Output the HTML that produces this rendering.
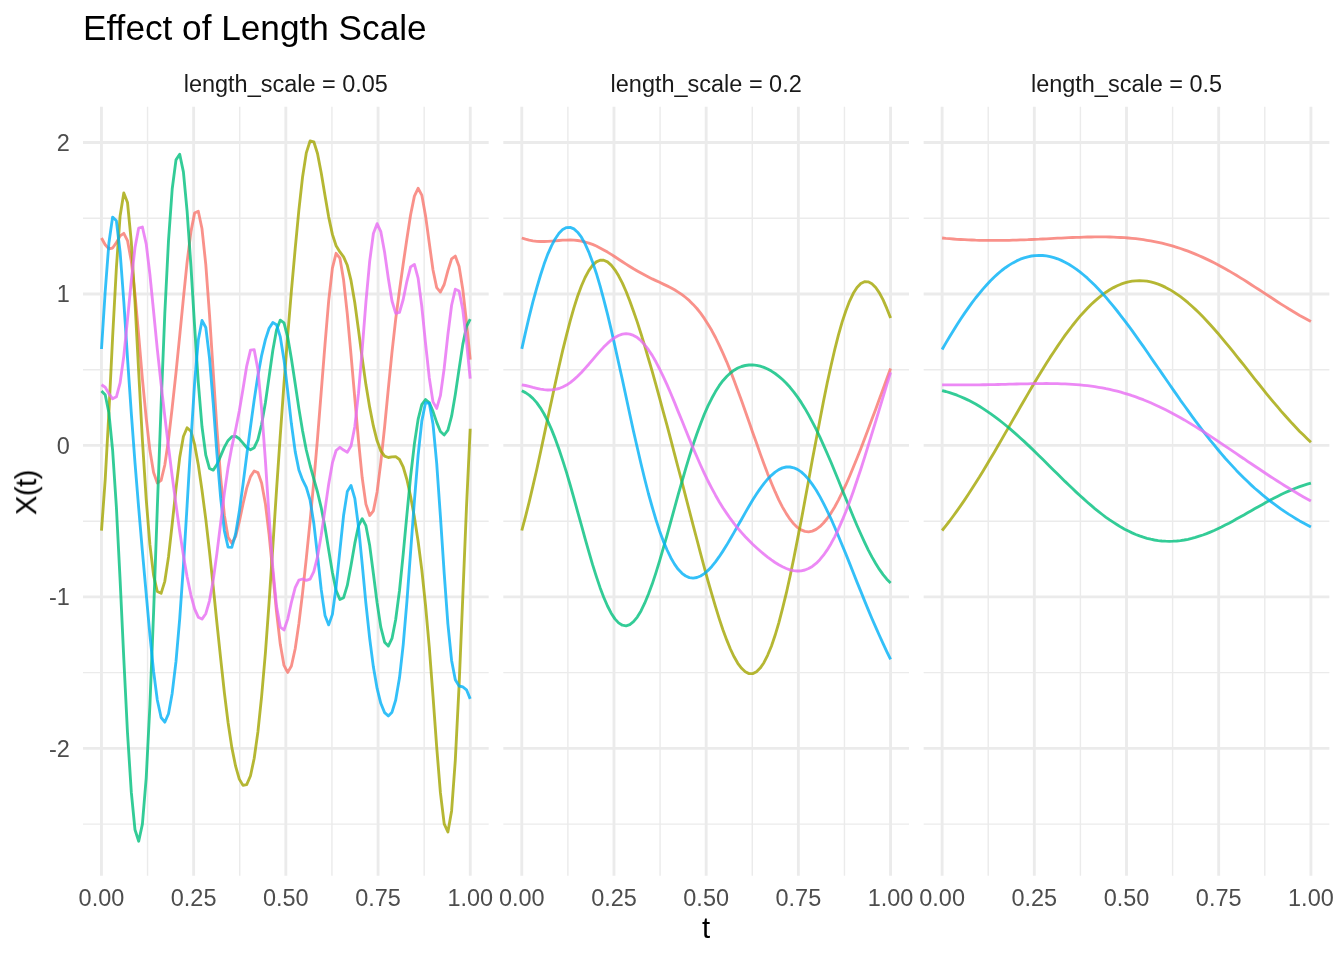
<!DOCTYPE html>
<html lang="en"><head><meta charset="utf-8"><title>Effect of Length Scale</title>
<style>html,body{margin:0;padding:0;background:#fff}body{width:1344px;height:960px;overflow:hidden}svg text{will-change:opacity}svg{will-change:transform}</style>
</head><body>
<svg width="1344" height="960" viewBox="0 0 1344 960" style="display:block;font-family:'Liberation Sans',Arial,Helvetica,sans-serif">
<rect width="1344" height="960" fill="#FFFFFF"/>
<g id="panel1">
<path d="M83.00 218.24H488.67M83.00 369.70H488.67M83.00 521.17H488.67M83.00 672.64H488.67M83.00 824.12H488.67M147.55 106.80V875.70M239.75 106.80V875.70M331.95 106.80V875.70M424.15 106.80V875.70" stroke="#EBEBEB" stroke-width="1.42" fill="none"/>
<path d="M83.00 142.50H488.67M83.00 293.97H488.67M83.00 445.44H488.67M83.00 596.91H488.67M83.00 748.38H488.67M101.45 106.80V875.70M193.65 106.80V875.70M285.85 106.80V875.70M378.05 106.80V875.70M470.25 106.80V875.70" stroke="#EBEBEB" stroke-width="2.85" fill="none"/>
<polyline points="101.5,238.0 105.2,244.8 108.9,248.8 112.6,248.0 116.4,242.7 120.1,235.9 123.8,233.3 127.5,240.6 131.3,261.2 135.0,294.5 138.7,335.7 142.4,378.8 146.2,418.2 149.9,450.3 153.6,472.6 157.3,483.0 161.1,480.3 164.8,465.0 168.5,439.6 172.2,407.7 176.0,372.6 179.7,335.8 183.4,298.3 187.1,262.2 190.9,231.8 194.6,213.1 198.3,211.2 202.0,228.8 205.8,264.7 209.5,314.5 213.2,371.6 216.9,428.4 220.7,478.2 224.4,515.4 228.1,537.2 231.8,543.3 235.6,536.6 239.3,521.7 243.0,504.0 246.7,488.1 250.5,476.6 254.2,471.0 257.9,472.6 261.6,483.0 265.4,503.7 269.1,534.7 272.8,572.6 276.5,611.6 280.3,644.3 284.0,665.4 287.7,672.4 291.4,666.0 295.2,648.7 298.9,623.4 302.6,592.7 306.3,558.3 310.1,521.2 313.8,481.5 317.5,438.6 321.2,392.1 325.0,344.3 328.7,300.6 332.4,268.2 336.1,253.3 339.9,258.1 343.6,280.1 347.3,314.0 351.0,354.6 354.8,398.1 358.5,440.7 362.2,477.8 365.9,504.1 369.7,515.5 373.4,510.8 377.1,491.9 380.8,462.6 384.6,427.0 388.3,389.0 392.0,352.2 395.7,319.1 399.5,290.2 403.2,264.0 406.9,238.7 410.6,214.7 414.4,196.1 418.1,188.3 421.8,195.1 425.5,215.4 429.3,243.3 433.0,270.0 436.7,287.6 440.4,292.1 444.2,284.5 447.9,270.7 451.6,258.8 455.3,256.1 459.1,266.4 462.8,289.5 466.5,322.1 470.2,359.6" fill="none" stroke="#F8766D" stroke-opacity="0.8" stroke-width="2.85" stroke-linejoin="round" stroke-linecap="butt"/>
<polyline points="101.5,530.6 105.2,479.7 108.9,412.5 112.6,337.5 116.4,267.5 120.1,215.9 123.8,192.9 127.5,202.5 131.3,241.8 135.0,302.1 138.7,371.8 142.4,440.2 146.2,499.2 149.9,544.7 153.6,575.4 157.3,591.5 161.1,593.3 164.8,581.3 168.5,556.9 172.2,524.0 176.0,488.6 179.7,457.6 183.4,436.5 187.1,427.8 190.9,431.2 194.6,444.4 198.3,464.8 202.0,490.2 205.8,519.4 209.5,551.6 213.2,586.4 216.9,622.8 220.7,658.9 224.4,692.9 228.1,722.7 231.8,747.4 235.6,766.2 239.3,779.1 243.0,785.4 246.7,784.6 250.5,775.7 254.2,758.3 257.9,731.9 261.6,696.7 265.4,653.0 269.1,602.4 272.8,547.1 276.5,490.3 280.3,435.1 284.0,383.4 287.7,335.6 291.4,290.9 295.2,248.7 298.9,209.8 302.6,176.7 306.3,152.9 310.1,141.0 313.8,141.8 317.5,153.5 321.2,172.8 325.0,195.4 328.7,217.1 332.4,234.4 336.1,245.7 339.9,251.9 343.6,256.9 347.3,265.3 351.0,280.4 354.8,302.8 358.5,330.0 362.2,358.3 365.9,384.6 369.7,407.4 373.4,426.2 377.1,440.8 380.8,450.8 384.6,456.1 388.3,457.5 392.0,456.8 395.7,456.7 399.5,459.5 403.2,467.0 406.9,479.5 410.6,496.5 414.4,517.1 418.1,541.2 421.8,569.9 425.5,605.0 429.3,647.4 433.0,696.2 436.7,747.1 440.4,792.7 444.2,823.9 447.9,831.9 451.6,810.9 455.3,760.3 459.1,685.3 462.8,596.5 466.5,506.8 470.2,428.8" fill="none" stroke="#A3A500" stroke-opacity="0.8" stroke-width="2.85" stroke-linejoin="round" stroke-linecap="butt"/>
<polyline points="101.5,391.0 105.2,394.8 108.9,412.8 112.6,450.0 116.4,507.3 120.1,579.9 123.8,658.8 127.5,732.8 131.3,792.2 135.0,829.8 138.7,841.2 142.4,824.1 146.2,778.0 149.9,705.4 153.6,612.1 157.3,508.2 161.1,405.2 164.8,313.7 168.5,240.6 172.2,189.0 176.0,159.9 179.7,154.2 183.4,171.9 187.1,211.1 190.9,265.6 194.6,326.2 198.3,382.6 202.0,426.8 205.8,455.2 209.5,468.5 213.2,470.1 216.9,464.6 220.7,455.9 224.4,447.1 228.1,440.4 231.8,436.7 235.6,436.3 239.3,438.8 243.0,443.2 246.7,447.5 250.5,449.7 254.2,447.7 257.9,439.6 261.6,424.6 265.4,402.8 269.1,376.7 272.8,350.5 276.5,330.0 280.3,320.1 284.0,322.9 287.7,337.1 291.4,358.8 295.2,383.8 298.9,408.6 302.6,431.0 306.3,450.0 310.1,465.5 313.8,478.8 317.5,492.0 321.2,507.6 325.0,527.3 328.7,550.0 332.4,572.5 336.1,590.4 339.9,599.5 343.6,597.7 347.3,585.4 351.0,565.5 354.8,543.4 358.5,525.8 362.2,518.7 365.9,525.7 369.7,545.6 373.4,573.7 377.1,602.9 380.8,627.1 384.6,642.2 388.3,646.1 392.0,638.4 395.7,619.5 399.5,590.5 403.2,554.2 406.9,514.7 410.6,476.5 414.4,443.8 418.1,419.4 421.8,404.6 425.5,399.5 429.3,402.6 433.0,411.4 436.7,422.4 440.4,431.5 444.2,435.0 447.9,430.1 451.6,416.2 455.3,394.5 459.1,368.9 462.8,344.4 466.5,326.5 470.2,319.1" fill="none" stroke="#00BF7D" stroke-opacity="0.8" stroke-width="2.85" stroke-linejoin="round" stroke-linecap="butt"/>
<polyline points="101.5,349.0 105.2,291.5 108.9,243.0 112.6,217.1 116.4,220.8 120.1,252.0 123.8,301.5 127.5,358.1 131.3,413.1 135.0,462.8 138.7,508.1 142.4,551.4 146.2,593.9 149.9,634.9 153.6,671.4 157.3,700.0 161.1,717.5 164.8,722.2 168.5,713.8 172.2,693.2 176.0,661.4 179.7,618.8 183.4,566.2 187.1,505.4 190.9,441.5 194.6,383.1 198.3,340.1 202.0,320.5 205.8,327.5 209.5,357.8 213.2,403.2 216.9,453.4 220.7,498.4 224.4,531.0 228.1,547.2 231.8,547.3 235.6,534.0 239.3,511.6 243.0,484.4 246.7,455.5 250.5,426.8 254.2,399.9 257.9,375.8 261.6,355.6 265.4,339.6 269.1,328.2 272.8,322.6 276.5,324.7 280.3,336.9 284.0,359.9 287.7,390.8 291.4,423.8 295.2,451.6 298.9,470.0 302.6,479.9 306.3,487.4 310.1,500.2 313.8,523.2 317.5,555.3 321.2,589.4 325.0,615.4 328.7,624.9 332.4,614.4 336.1,586.8 339.9,550.3 343.6,515.3 347.3,491.6 351.0,485.4 354.8,498.3 358.5,526.7 362.2,564.1 365.9,603.3 369.7,638.6 373.4,667.1 377.1,688.4 380.8,703.3 384.6,712.6 388.3,715.9 392.0,712.2 395.7,700.0 399.5,677.8 403.2,644.8 406.9,601.7 410.6,551.9 414.4,500.9 418.1,455.3 421.8,421.1 425.5,402.7 429.3,403.3 433.0,424.0 436.7,463.3 440.4,516.2 444.2,573.3 447.9,624.1 451.6,660.4 455.3,679.7 459.1,686.0 462.8,686.9 466.5,689.8 470.2,698.9" fill="none" stroke="#00B0F6" stroke-opacity="0.8" stroke-width="2.85" stroke-linejoin="round" stroke-linecap="butt"/>
<polyline points="101.5,384.8 105.2,387.3 108.9,393.6 112.6,398.8 116.4,396.8 120.1,382.9 123.8,356.1 127.5,319.6 131.3,280.6 135.0,247.5 138.7,228.1 142.4,227.0 146.2,243.9 149.9,274.4 153.6,311.5 157.3,349.2 161.1,384.2 164.8,416.4 168.5,446.8 172.2,476.3 176.0,504.7 179.7,531.3 183.4,555.4 187.1,576.8 190.9,595.0 194.6,608.9 198.3,617.2 202.0,619.1 205.8,613.7 209.5,600.8 213.2,580.3 216.9,553.4 220.7,522.8 224.4,492.8 228.1,467.3 231.8,447.1 235.6,429.8 239.3,411.1 243.0,388.9 246.7,366.1 250.5,350.2 254.2,349.7 257.9,369.6 261.6,408.6 265.4,460.7 269.1,516.7 272.8,567.7 276.5,606.1 280.3,627.1 284.0,630.0 287.7,619.1 291.4,602.3 295.2,587.7 298.9,580.1 302.6,579.0 306.3,580.4 310.1,579.1 313.8,571.6 317.5,556.8 321.2,535.3 325.0,509.6 328.7,483.9 332.4,462.9 336.1,450.5 339.9,447.3 343.6,450.1 347.3,452.2 351.0,446.1 354.8,426.7 358.5,393.2 362.2,349.3 365.9,302.3 369.7,261.1 373.4,233.5 377.1,223.7 380.8,231.6 384.6,252.3 388.3,278.3 392.0,301.0 395.7,313.4 399.5,312.4 403.2,299.5 406.9,281.3 410.6,266.9 414.4,264.4 418.1,278.1 421.8,306.5 425.5,343.0 429.3,377.9 433.0,401.9 436.7,408.4 440.4,395.7 444.2,368.2 447.9,334.5 451.6,305.2 455.3,289.2 459.1,291.0 462.8,309.8 466.5,341.3 470.2,378.7" fill="none" stroke="#E76BF3" stroke-opacity="0.8" stroke-width="2.85" stroke-linejoin="round" stroke-linecap="butt"/>
</g>
<g id="panel2">
<path d="M503.33 218.24H909.00M503.33 369.70H909.00M503.33 521.17H909.00M503.33 672.64H909.00M503.33 824.12H909.00M567.87 106.80V875.70M660.07 106.80V875.70M752.27 106.80V875.70M844.47 106.80V875.70" stroke="#EBEBEB" stroke-width="1.42" fill="none"/>
<path d="M503.33 142.50H909.00M503.33 293.97H909.00M503.33 445.44H909.00M503.33 596.91H909.00M503.33 748.38H909.00M521.77 106.80V875.70M613.97 106.80V875.70M706.17 106.80V875.70M798.37 106.80V875.70M890.57 106.80V875.70" stroke="#EBEBEB" stroke-width="2.85" fill="none"/>
<polyline points="521.8,238.0 525.5,239.2 529.2,240.2 532.9,240.9 536.7,241.3 540.4,241.5 544.1,241.5 547.8,241.4 551.6,241.1 555.3,240.8 559.0,240.5 562.7,240.2 566.5,240.1 570.2,240.0 573.9,240.2 577.6,240.5 581.4,241.1 585.1,242.0 588.8,243.1 592.5,244.4 596.3,246.0 600.0,247.9 603.7,249.9 607.5,252.1 611.2,254.4 614.9,256.8 618.6,259.2 622.4,261.7 626.1,264.1 629.8,266.5 633.5,268.8 637.3,271.0 641.0,273.1 644.7,275.1 648.4,277.0 652.2,278.9 655.9,280.6 659.6,282.3 663.3,284.1 667.1,285.9 670.8,287.7 674.5,289.8 678.2,292.1 682.0,294.6 685.7,297.5 689.4,300.7 693.1,304.4 696.9,308.5 700.6,313.2 704.3,318.4 708.0,324.2 711.8,330.6 715.5,337.5 719.2,345.1 722.9,353.2 726.7,361.8 730.4,370.9 734.1,380.5 737.8,390.4 741.6,400.7 745.3,411.2 749.0,421.8 752.7,432.5 756.5,443.1 760.2,453.6 763.9,463.8 767.6,473.6 771.4,483.0 775.1,491.7 778.8,499.8 782.5,507.1 786.3,513.6 790.0,519.2 793.7,523.8 797.4,527.4 801.2,529.9 804.9,531.4 808.6,531.8 812.3,531.1 816.1,529.4 819.8,526.7 823.5,523.0 827.2,518.5 831.0,513.1 834.7,507.0 838.4,500.1 842.1,492.7 845.9,484.7 849.6,476.2 853.3,467.3 857.0,458.2 860.8,448.7 864.5,439.0 868.2,429.2 871.9,419.2 875.7,409.2 879.4,399.1 883.1,388.9 886.8,378.7 890.6,368.5" fill="none" stroke="#F8766D" stroke-opacity="0.8" stroke-width="2.85" stroke-linejoin="round" stroke-linecap="butt"/>
<polyline points="521.8,530.5 525.5,516.6 529.2,501.8 532.9,486.1 536.7,469.7 540.4,452.8 544.1,435.4 547.8,418.0 551.6,400.5 555.3,383.3 559.0,366.5 562.7,350.4 566.5,335.1 570.2,320.9 573.9,307.9 577.6,296.2 581.4,286.0 585.1,277.5 588.8,270.6 592.5,265.4 596.3,261.9 600.0,260.2 603.7,260.2 607.5,261.9 611.2,265.1 614.9,269.8 618.6,275.8 622.4,283.1 626.1,291.5 629.8,300.9 633.5,311.2 637.3,322.1 641.0,333.8 644.7,345.9 648.4,358.5 652.2,371.4 655.9,384.7 659.6,398.2 663.3,411.8 667.1,425.7 670.8,439.7 674.5,453.8 678.2,468.0 682.0,482.2 685.7,496.6 689.4,510.9 693.1,525.2 696.9,539.5 700.6,553.6 704.3,567.5 708.0,581.0 711.8,594.1 715.5,606.7 719.2,618.6 722.9,629.7 726.7,639.9 730.4,649.0 734.1,656.8 737.8,663.3 741.6,668.3 745.3,671.8 749.0,673.6 752.7,673.6 756.5,671.8 760.2,668.1 763.9,662.7 767.6,655.3 771.4,646.2 775.1,635.3 778.8,622.8 782.5,608.7 786.3,593.2 790.0,576.5 793.7,558.7 797.4,539.9 801.2,520.5 804.9,500.6 808.6,480.4 812.3,460.1 816.1,440.0 819.8,420.4 823.5,401.3 827.2,383.0 831.0,365.8 834.7,349.8 838.4,335.2 842.1,322.1 845.9,310.7 849.6,301.1 853.3,293.3 857.0,287.5 860.8,283.6 864.5,281.7 868.2,281.8 871.9,283.7 875.7,287.5 879.4,292.9 883.1,299.9 886.8,308.4 890.6,318.1" fill="none" stroke="#A3A500" stroke-opacity="0.8" stroke-width="2.85" stroke-linejoin="round" stroke-linecap="butt"/>
<polyline points="521.8,390.8 525.5,392.6 529.2,395.1 532.9,398.4 536.7,402.6 540.4,407.8 544.1,414.0 547.8,421.2 551.6,429.6 555.3,438.9 559.0,449.2 562.7,460.4 566.5,472.4 570.2,485.0 573.9,498.1 577.6,511.6 581.4,525.1 585.1,538.6 588.8,551.7 592.5,564.4 596.3,576.4 600.0,587.4 603.7,597.3 607.5,606.0 611.2,613.2 614.9,618.9 618.6,622.9 622.4,625.2 626.1,625.8 629.8,624.6 633.5,621.7 637.3,617.1 641.0,610.9 644.7,603.2 648.4,594.3 652.2,584.1 655.9,572.9 659.6,560.9 663.3,548.2 667.1,535.1 670.8,521.6 674.5,508.1 678.2,494.7 682.0,481.5 685.7,468.7 689.4,456.4 693.1,444.8 696.9,433.8 700.6,423.7 704.3,414.3 708.0,405.9 711.8,398.3 715.5,391.6 719.2,385.7 722.9,380.7 726.7,376.5 730.4,373.0 734.1,370.2 737.8,368.0 741.6,366.5 745.3,365.5 749.0,365.0 752.7,364.9 756.5,365.4 760.2,366.2 763.9,367.4 767.6,369.0 771.4,371.1 775.1,373.5 778.8,376.3 782.5,379.5 786.3,383.2 790.0,387.3 793.7,391.9 797.4,396.9 801.2,402.4 804.9,408.4 808.6,414.9 812.3,421.8 816.1,429.2 819.8,436.9 823.5,445.1 827.2,453.5 831.0,462.3 834.7,471.2 838.4,480.3 842.1,489.5 845.9,498.7 849.6,507.8 853.3,516.8 857.0,525.5 860.8,534.0 864.5,542.1 868.2,549.8 871.9,556.9 875.7,563.5 879.4,569.4 883.1,574.6 886.8,579.2 890.6,582.9" fill="none" stroke="#00BF7D" stroke-opacity="0.8" stroke-width="2.85" stroke-linejoin="round" stroke-linecap="butt"/>
<polyline points="521.8,348.9 525.5,332.4 529.2,316.6 532.9,301.8 536.7,288.1 540.4,275.5 544.1,264.1 547.8,254.1 551.6,245.6 555.3,238.7 559.0,233.3 562.7,229.6 566.5,227.6 570.2,227.4 573.9,228.9 577.6,232.2 581.4,237.2 585.1,243.9 588.8,252.1 592.5,261.9 596.3,273.2 600.0,285.7 603.7,299.4 607.5,314.2 611.2,329.7 614.9,346.0 618.6,362.8 622.4,379.8 626.1,397.0 629.8,414.2 633.5,431.2 637.3,447.7 641.0,463.7 644.7,479.0 648.4,493.5 652.2,507.0 655.9,519.5 659.6,530.9 663.3,541.1 667.1,550.0 670.8,557.7 674.5,564.1 678.2,569.3 682.0,573.3 685.7,576.0 689.4,577.6 693.1,578.1 696.9,577.5 700.6,576.0 704.3,573.6 708.0,570.4 711.8,566.4 715.5,561.9 719.2,556.7 722.9,551.1 726.7,545.1 730.4,538.8 734.1,532.4 737.8,525.8 741.6,519.2 745.3,512.6 749.0,506.2 752.7,500.0 756.5,494.1 760.2,488.6 763.9,483.6 767.6,479.2 771.4,475.3 775.1,472.1 778.8,469.6 782.5,467.9 786.3,467.0 790.0,467.0 793.7,467.8 797.4,469.4 801.2,471.9 804.9,475.3 808.6,479.4 812.3,484.4 816.1,490.0 819.8,496.4 823.5,503.3 827.2,510.8 831.0,518.8 834.7,527.2 838.4,536.0 842.1,545.0 845.9,554.1 849.6,563.4 853.3,572.8 857.0,582.1 860.8,591.4 864.5,600.6 868.2,609.6 871.9,618.5 875.7,627.1 879.4,635.5 883.1,643.7 886.8,651.6 890.6,659.3" fill="none" stroke="#00B0F6" stroke-opacity="0.8" stroke-width="2.85" stroke-linejoin="round" stroke-linecap="butt"/>
<polyline points="521.8,384.8 525.5,385.5 529.2,386.4 532.9,387.4 536.7,388.3 540.4,389.1 544.1,389.7 547.8,390.0 551.6,389.9 555.3,389.4 559.0,388.5 562.7,387.0 566.5,385.1 570.2,382.6 573.9,379.6 577.6,376.3 581.4,372.5 585.1,368.4 588.8,364.2 592.5,359.8 596.3,355.4 600.0,351.1 603.7,347.1 607.5,343.4 611.2,340.2 614.9,337.5 618.6,335.5 622.4,334.2 626.1,333.7 629.8,334.1 633.5,335.4 637.3,337.6 641.0,340.7 644.7,344.8 648.4,349.7 652.2,355.4 655.9,361.8 659.6,369.0 663.3,376.7 667.1,384.9 670.8,393.5 674.5,402.4 678.2,411.6 682.0,420.8 685.7,430.0 689.4,439.1 693.1,448.1 696.9,456.8 700.6,465.2 704.3,473.3 708.0,481.0 711.8,488.3 715.5,495.2 719.2,501.7 722.9,507.8 726.7,513.4 730.4,518.7 734.1,523.7 737.8,528.3 741.6,532.6 745.3,536.7 749.0,540.6 752.7,544.3 756.5,547.7 760.2,551.0 763.9,554.2 767.6,557.1 771.4,559.9 775.1,562.5 778.8,564.8 782.5,566.8 786.3,568.5 790.0,569.8 793.7,570.6 797.4,571.0 801.2,570.8 804.9,570.0 808.6,568.5 812.3,566.4 816.1,563.4 819.8,559.7 823.5,555.2 827.2,549.9 831.0,543.7 834.7,536.8 838.4,529.1 842.1,520.6 845.9,511.5 849.6,501.7 853.3,491.4 857.0,480.5 860.8,469.3 864.5,457.6 868.2,445.7 871.9,433.6 875.7,421.4 879.4,409.1 883.1,396.8 886.8,384.5 890.6,372.4" fill="none" stroke="#E76BF3" stroke-opacity="0.8" stroke-width="2.85" stroke-linejoin="round" stroke-linecap="butt"/>
</g>
<g id="panel3">
<path d="M923.67 218.24H1329.34M923.67 369.70H1329.34M923.67 521.17H1329.34M923.67 672.64H1329.34M923.67 824.12H1329.34M988.21 106.80V875.70M1080.41 106.80V875.70M1172.61 106.80V875.70M1264.81 106.80V875.70" stroke="#EBEBEB" stroke-width="1.42" fill="none"/>
<path d="M923.67 142.50H1329.34M923.67 293.97H1329.34M923.67 445.44H1329.34M923.67 596.91H1329.34M923.67 748.38H1329.34M942.11 106.80V875.70M1034.31 106.80V875.70M1126.51 106.80V875.70M1218.71 106.80V875.70M1310.91 106.80V875.70" stroke="#EBEBEB" stroke-width="2.85" fill="none"/>
<polyline points="942.1,238.0 945.8,238.4 949.6,238.7 953.3,239.0 957.0,239.3 960.7,239.5 964.5,239.7 968.2,239.9 971.9,240.0 975.6,240.2 979.4,240.3 983.1,240.3 986.8,240.4 990.5,240.4 994.3,240.4 998.0,240.4 1001.7,240.4 1005.4,240.3 1009.2,240.3 1012.9,240.2 1016.6,240.1 1020.3,239.9 1024.1,239.8 1027.8,239.7 1031.5,239.5 1035.2,239.3 1039.0,239.2 1042.7,239.0 1046.4,238.8 1050.1,238.6 1053.9,238.4 1057.6,238.2 1061.3,238.1 1065.0,237.9 1068.8,237.7 1072.5,237.5 1076.2,237.4 1079.9,237.3 1083.7,237.1 1087.4,237.0 1091.1,237.0 1094.8,236.9 1098.6,236.9 1102.3,236.9 1106.0,236.9 1109.7,237.0 1113.5,237.1 1117.2,237.3 1120.9,237.5 1124.6,237.7 1128.4,238.0 1132.1,238.3 1135.8,238.7 1139.5,239.2 1143.3,239.7 1147.0,240.3 1150.7,240.9 1154.4,241.6 1158.2,242.4 1161.9,243.2 1165.6,244.1 1169.4,245.1 1173.1,246.2 1176.8,247.3 1180.5,248.5 1184.3,249.8 1188.0,251.2 1191.7,252.6 1195.4,254.1 1199.2,255.7 1202.9,257.4 1206.6,259.1 1210.3,260.9 1214.1,262.8 1217.8,264.7 1221.5,266.7 1225.2,268.8 1229.0,270.9 1232.7,273.1 1236.4,275.3 1240.1,277.6 1243.9,279.9 1247.6,282.3 1251.3,284.7 1255.0,287.1 1258.8,289.5 1262.5,291.9 1266.2,294.4 1269.9,296.8 1273.7,299.2 1277.4,301.7 1281.1,304.1 1284.8,306.4 1288.6,308.8 1292.3,311.0 1296.0,313.3 1299.7,315.5 1303.5,317.6 1307.2,319.6 1310.9,321.6" fill="none" stroke="#F8766D" stroke-opacity="0.8" stroke-width="2.85" stroke-linejoin="round" stroke-linecap="butt"/>
<polyline points="942.1,530.5 945.8,525.8 949.6,521.0 953.3,516.0 957.0,510.9 960.7,505.6 964.5,500.1 968.2,494.5 971.9,488.8 975.6,482.9 979.4,477.0 983.1,470.9 986.8,464.7 990.5,458.5 994.3,452.2 998.0,445.8 1001.7,439.4 1005.4,432.9 1009.2,426.4 1012.9,419.9 1016.6,413.5 1020.3,407.0 1024.1,400.5 1027.8,394.1 1031.5,387.8 1035.2,381.5 1039.0,375.3 1042.7,369.2 1046.4,363.3 1050.1,357.4 1053.9,351.7 1057.6,346.1 1061.3,340.7 1065.0,335.4 1068.8,330.4 1072.5,325.5 1076.2,320.9 1079.9,316.4 1083.7,312.2 1087.4,308.3 1091.1,304.5 1094.8,301.1 1098.6,297.8 1102.3,294.9 1106.0,292.2 1109.7,289.8 1113.5,287.6 1117.2,285.8 1120.9,284.2 1124.6,282.9 1128.4,281.9 1132.1,281.2 1135.8,280.8 1139.5,280.7 1143.3,280.8 1147.0,281.2 1150.7,281.9 1154.4,282.9 1158.2,284.1 1161.9,285.6 1165.6,287.4 1169.4,289.4 1173.1,291.6 1176.8,294.1 1180.5,296.7 1184.3,299.6 1188.0,302.7 1191.7,306.0 1195.4,309.4 1199.2,313.0 1202.9,316.8 1206.6,320.7 1210.3,324.8 1214.1,329.0 1217.8,333.2 1221.5,337.6 1225.2,342.1 1229.0,346.6 1232.7,351.2 1236.4,355.8 1240.1,360.5 1243.9,365.2 1247.6,369.9 1251.3,374.6 1255.0,379.3 1258.8,384.0 1262.5,388.7 1266.2,393.3 1269.9,397.8 1273.7,402.3 1277.4,406.7 1281.1,411.1 1284.8,415.3 1288.6,419.5 1292.3,423.6 1296.0,427.5 1299.7,431.4 1303.5,435.1 1307.2,438.7 1310.9,442.2" fill="none" stroke="#A3A500" stroke-opacity="0.8" stroke-width="2.85" stroke-linejoin="round" stroke-linecap="butt"/>
<polyline points="942.1,390.6 945.8,391.5 949.6,392.6 953.3,393.8 957.0,395.2 960.7,396.7 964.5,398.4 968.2,400.1 971.9,402.1 975.6,404.1 979.4,406.3 983.1,408.6 986.8,411.1 990.5,413.6 994.3,416.3 998.0,419.1 1001.7,422.0 1005.4,425.0 1009.2,428.1 1012.9,431.3 1016.6,434.6 1020.3,438.0 1024.1,441.4 1027.8,444.9 1031.5,448.4 1035.2,452.0 1039.0,455.7 1042.7,459.3 1046.4,463.0 1050.1,466.7 1053.9,470.4 1057.6,474.1 1061.3,477.7 1065.0,481.4 1068.8,485.0 1072.5,488.6 1076.2,492.1 1079.9,495.5 1083.7,498.9 1087.4,502.2 1091.1,505.4 1094.8,508.6 1098.6,511.6 1102.3,514.5 1106.0,517.3 1109.7,519.9 1113.5,522.4 1117.2,524.8 1120.9,527.1 1124.6,529.2 1128.4,531.1 1132.1,532.9 1135.8,534.5 1139.5,535.9 1143.3,537.2 1147.0,538.3 1150.7,539.2 1154.4,540.0 1158.2,540.6 1161.9,541.0 1165.6,541.2 1169.4,541.3 1173.1,541.2 1176.8,541.0 1180.5,540.6 1184.3,540.0 1188.0,539.3 1191.7,538.4 1195.4,537.4 1199.2,536.2 1202.9,535.0 1206.6,533.6 1210.3,532.1 1214.1,530.5 1217.8,528.7 1221.5,527.0 1225.2,525.1 1229.0,523.2 1232.7,521.2 1236.4,519.1 1240.1,517.1 1243.9,515.0 1247.6,512.8 1251.3,510.7 1255.0,508.6 1258.8,506.5 1262.5,504.4 1266.2,502.3 1269.9,500.3 1273.7,498.3 1277.4,496.4 1281.1,494.5 1284.8,492.8 1288.6,491.1 1292.3,489.5 1296.0,488.0 1299.7,486.6 1303.5,485.3 1307.2,484.2 1310.9,483.1" fill="none" stroke="#00BF7D" stroke-opacity="0.8" stroke-width="2.85" stroke-linejoin="round" stroke-linecap="butt"/>
<polyline points="942.1,349.5 945.8,343.1 949.6,336.8 953.3,330.7 957.0,324.8 960.7,319.0 964.5,313.4 968.2,308.1 971.9,302.9 975.6,298.0 979.4,293.3 983.1,288.9 986.8,284.7 990.5,280.7 994.3,277.0 998.0,273.6 1001.7,270.5 1005.4,267.7 1009.2,265.1 1012.9,262.9 1016.6,260.9 1020.3,259.2 1024.1,257.9 1027.8,256.8 1031.5,256.0 1035.2,255.6 1039.0,255.4 1042.7,255.5 1046.4,255.9 1050.1,256.6 1053.9,257.6 1057.6,258.8 1061.3,260.4 1065.0,262.2 1068.8,264.2 1072.5,266.6 1076.2,269.1 1079.9,271.9 1083.7,275.0 1087.4,278.2 1091.1,281.7 1094.8,285.3 1098.6,289.2 1102.3,293.2 1106.0,297.4 1109.7,301.8 1113.5,306.3 1117.2,311.0 1120.9,315.8 1124.6,320.6 1128.4,325.6 1132.1,330.7 1135.8,335.9 1139.5,341.1 1143.3,346.4 1147.0,351.8 1150.7,357.2 1154.4,362.6 1158.2,368.0 1161.9,373.4 1165.6,378.8 1169.4,384.2 1173.1,389.6 1176.8,394.9 1180.5,400.3 1184.3,405.5 1188.0,410.7 1191.7,415.8 1195.4,420.9 1199.2,425.9 1202.9,430.8 1206.6,435.6 1210.3,440.3 1214.1,444.9 1217.8,449.5 1221.5,453.9 1225.2,458.2 1229.0,462.4 1232.7,466.4 1236.4,470.4 1240.1,474.2 1243.9,478.0 1247.6,481.6 1251.3,485.1 1255.0,488.5 1258.8,491.7 1262.5,494.9 1266.2,497.9 1269.9,500.9 1273.7,503.7 1277.4,506.4 1281.1,509.1 1284.8,511.6 1288.6,514.1 1292.3,516.4 1296.0,518.7 1299.7,520.9 1303.5,523.0 1307.2,525.1 1310.9,527.1" fill="none" stroke="#00B0F6" stroke-opacity="0.8" stroke-width="2.85" stroke-linejoin="round" stroke-linecap="butt"/>
<polyline points="942.1,384.8 945.8,384.8 949.6,384.8 953.3,384.8 957.0,384.8 960.7,384.9 964.5,384.9 968.2,384.9 971.9,384.8 975.6,384.8 979.4,384.8 983.1,384.7 986.8,384.7 990.5,384.6 994.3,384.6 998.0,384.5 1001.7,384.4 1005.4,384.3 1009.2,384.2 1012.9,384.1 1016.6,384.0 1020.3,383.9 1024.1,383.8 1027.8,383.8 1031.5,383.7 1035.2,383.6 1039.0,383.6 1042.7,383.6 1046.4,383.5 1050.1,383.6 1053.9,383.6 1057.6,383.7 1061.3,383.8 1065.0,383.9 1068.8,384.1 1072.5,384.3 1076.2,384.6 1079.9,384.9 1083.7,385.3 1087.4,385.7 1091.1,386.2 1094.8,386.7 1098.6,387.3 1102.3,387.9 1106.0,388.7 1109.7,389.4 1113.5,390.3 1117.2,391.2 1120.9,392.2 1124.6,393.3 1128.4,394.4 1132.1,395.7 1135.8,396.9 1139.5,398.3 1143.3,399.7 1147.0,401.2 1150.7,402.8 1154.4,404.5 1158.2,406.2 1161.9,408.0 1165.6,409.8 1169.4,411.7 1173.1,413.7 1176.8,415.7 1180.5,417.8 1184.3,419.9 1188.0,422.1 1191.7,424.4 1195.4,426.6 1199.2,429.0 1202.9,431.3 1206.6,433.7 1210.3,436.1 1214.1,438.6 1217.8,441.1 1221.5,443.6 1225.2,446.1 1229.0,448.6 1232.7,451.1 1236.4,453.7 1240.1,456.2 1243.9,458.7 1247.6,461.3 1251.3,463.8 1255.0,466.3 1258.8,468.8 1262.5,471.3 1266.2,473.8 1269.9,476.2 1273.7,478.6 1277.4,481.0 1281.1,483.4 1284.8,485.7 1288.6,488.0 1292.3,490.3 1296.0,492.5 1299.7,494.7 1303.5,496.9 1307.2,499.0 1310.9,501.1" fill="none" stroke="#E76BF3" stroke-opacity="0.8" stroke-width="2.85" stroke-linejoin="round" stroke-linecap="butt"/>
</g>
<text x="83" y="40" font-size="35.2" fill="#000000">Effect of Length Scale</text>
<g font-size="23.47" fill="#1A1A1A" text-anchor="middle">
<text x="285.84" y="92">length_scale = 0.05</text>
<text x="706.16" y="92">length_scale = 0.2</text>
<text x="1126.50" y="92">length_scale = 0.5</text>
</g>
<g font-size="23.47" fill="#4D4D4D" text-anchor="end">
<text x="69.8" y="150.90">2</text>
<text x="69.8" y="302.37">1</text>
<text x="69.8" y="453.84">0</text>
<text x="69.8" y="605.31">-1</text>
<text x="69.8" y="756.78">-2</text>
</g>
<g font-size="23.47" fill="#4D4D4D" text-anchor="middle">
<text x="101.45" y="905.5">0.00</text>
<text x="193.65" y="905.5">0.25</text>
<text x="285.85" y="905.5">0.50</text>
<text x="378.05" y="905.5">0.75</text>
<text x="470.25" y="905.5">1.00</text>
<text x="521.77" y="905.5">0.00</text>
<text x="613.97" y="905.5">0.25</text>
<text x="706.17" y="905.5">0.50</text>
<text x="798.37" y="905.5">0.75</text>
<text x="890.57" y="905.5">1.00</text>
<text x="942.11" y="905.5">0.00</text>
<text x="1034.31" y="905.5">0.25</text>
<text x="1126.51" y="905.5">0.50</text>
<text x="1218.71" y="905.5">0.75</text>
<text x="1310.91" y="905.5">1.00</text>
</g>
<text x="706" y="938" font-size="29.33" fill="#000000" text-anchor="middle">t</text>
<text transform="translate(36.2 492.6) rotate(-90)" font-size="29.33" fill="#000000" text-anchor="middle" letter-spacing="-0.6">X(t)</text>
</svg>
</body></html>
